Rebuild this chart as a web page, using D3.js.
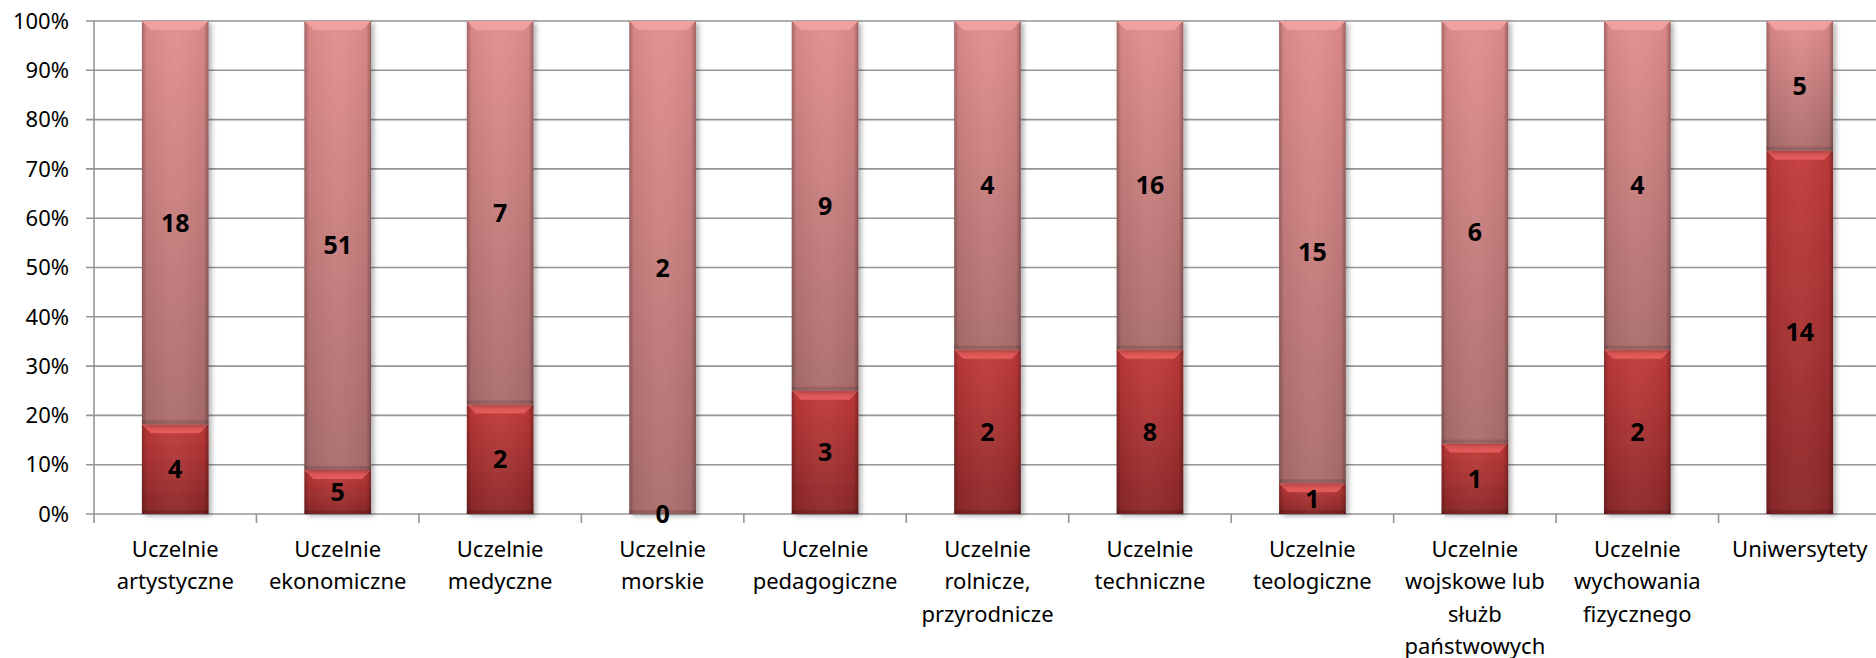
<!DOCTYPE html>
<head>
  <meta charset="utf-8">
  <script src="https://d3js.org/d3.v7.min.js"></script>
  <style>
    body { margin: 0; background: #fff; }
    text { font-family: 'Noto Sans', 'Open Sans', sans-serif; }
    .tick-label { font-size: 22px; fill: #000; }
    .val { font-size: 25px; font-weight: bold; fill: #000; }
    .grid line { stroke: #959595; stroke-width: 1.6; }
  </style>
</head>
<body>
<script>
  var categories = [
    "Uczelnie\nartystyczne",
    "Uczelnie\nekonomiczne",
    "Uczelnie\nmedyczne",
    "Uczelnie\nmorskie",
    "Uczelnie\npedagogiczne",
    "Uczelnie\nrolnicze,\nprzyrodnicze",
    "Uczelnie\ntechniczne",
    "Uczelnie\nteologiczne",
    "Uczelnie\nwojskowe lub\nsłużb\npaństwowych",
    "Uczelnie\nwychowania\nfizycznego",
    "Uniwersytety"
  ];
  var seriesBottom = [4, 5, 2, 0, 3, 2, 8, 1, 1, 2, 14];
  var seriesTop = [18, 51, 7, 2, 9, 4, 16, 15, 6, 4, 5];
  var yTicks = [0, 0.1, 0.2, 0.3, 0.4, 0.5, 0.6, 0.7, 0.8, 0.9, 1];

  var W = 1876, H = 658;
  var margin = { top: 21, left: 94, bottom: 144 };
  var plotRight = 1881;

  var svg = d3.select("body").append("svg")
      .attr("width", W)
      .attr("height", H);

  var defs = svg.append("defs");
  var g1 = defs.append("linearGradient").attr("id", "gBottom")
      .attr("x1", 0).attr("y1", 0).attr("x2", 0).attr("y2", 1);
  g1.append("stop").attr("offset", "0%").attr("stop-color", "#c43b3b");
  g1.append("stop").attr("offset", "100%").attr("stop-color", "#8c2829");
  var g2 = defs.append("linearGradient").attr("id", "gTop")
      .attr("x1", 0).attr("y1", 0).attr("x2", 0).attr("y2", 1);
  g2.append("stop").attr("offset", "0%").attr("stop-color", "#e38e8e");
  g2.append("stop").attr("offset", "100%").attr("stop-color", "#ab6d6d");
  var gs = defs.append("linearGradient").attr("id", "gSide")
      .attr("x1", 0).attr("y1", 0).attr("x2", 1).attr("y2", 0);
  gs.append("stop").attr("offset", "0%").attr("stop-color", "#000").attr("stop-opacity", 0.28);
  gs.append("stop").attr("offset", "7%").attr("stop-color", "#000").attr("stop-opacity", 0.05);
  gs.append("stop").attr("offset", "50%").attr("stop-color", "#fff").attr("stop-opacity", 0.04);
  gs.append("stop").attr("offset", "93%").attr("stop-color", "#000").attr("stop-opacity", 0.05);
  gs.append("stop").attr("offset", "100%").attr("stop-color", "#000").attr("stop-opacity", 0.32);
  var f = defs.append("filter").attr("id", "shadow")
      .attr("x", "-20%").attr("y", "-5%").attr("width", "150%").attr("height", "120%");
  f.append("feDropShadow").attr("dx", 3).attr("dy", 2).attr("stdDeviation", 2.5)
      .attr("flood-color", "#000").attr("flood-opacity", 0.3);

  var x = d3.scaleBand()
      .domain(categories)
      .range([margin.left, plotRight])
      .paddingInner(0.59)
      .paddingOuter(0.295);

  var y = d3.scaleLinear()
      .domain([0, 1])
      .range([H - margin.bottom, margin.top]);

  // gridlines
  svg.append("g").attr("class", "grid")
    .selectAll("line").data(yTicks).enter().append("line")
      .attr("x1", margin.left - 8).attr("x2", W)
      .attr("y1", function(d) { return y(d); })
      .attr("y2", function(d) { return y(d); });

  // y axis line
  svg.append("line")
      .attr("x1", margin.left).attr("x2", margin.left)
      .attr("y1", y(1)).attr("y2", y(0) + 9)
      .attr("stroke", "#959595").attr("stroke-width", 1.6);

  // x category ticks
  var step = x.step();
  svg.append("g").selectAll("line").data(categories.slice(1)).enter().append("line")
      .attr("x1", function(d) { return x(d) + x.bandwidth() / 2 - step / 2; })
      .attr("x2", function(d) { return x(d) + x.bandwidth() / 2 - step / 2; })
      .attr("y1", y(0)).attr("y2", y(0) + 9)
      .attr("stroke", "#959595").attr("stroke-width", 1.6);

  // y labels
  svg.append("g").selectAll("text").data(yTicks).enter().append("text")
      .attr("class", "tick-label")
      .attr("x", 69)
      .attr("y", function(d) { return y(d); })
      .attr("dy", "0.35em")
      .attr("text-anchor", "end")
      .text(function(d) { return Math.round(d * 100) + "%"; });

  var rows = categories.map(function(c, i) {
    var tot = seriesBottom[i] + seriesTop[i];
    return { cat: c, b: seriesBottom[i], t: seriesTop[i], pb: seriesBottom[i] / tot };
  });

  function drawSeg(sel, y0f, y1f, fill, bevel) {
    var bars = sel.selectAll("g.bar").data(rows).enter().append("g");
    bars.each(function(d) {
      var v0 = y0f(d), v1 = y1f(d);
      if (v1 - v0 <= 0) return;
      var gg = d3.select(this);
      var bx = x(d.cat), bw = x.bandwidth();
      var top = y(v1), h = y(v0) - y(v1);
      gg.append("rect").attr("x", bx).attr("y", top).attr("width", bw).attr("height", h)
          .attr("fill", fill).attr("filter", "url(#shadow)");
      gg.append("rect").attr("x", bx).attr("y", top).attr("width", bw).attr("height", h)
          .attr("fill", "url(#gSide)");
      var bv = Math.min(9, h / 2);
      gg.append("path")
          .attr("d", "M" + bx + "," + top + "L" + (bx + bw) + "," + top +
                "L" + (bx + bw - bv) + "," + (top + bv) + "L" + (bx + bv) + "," + (top + bv) + "Z")
          .attr("fill", bevel).attr("opacity", 0.85);
      gg.append("rect").attr("x", bx).attr("y", top + h - 4).attr("width", bw).attr("height", 4)
          .attr("fill", "#000").attr("opacity", 0.12);
    });
  }

  var barsG = svg.append("g");
  drawSeg(barsG.append("g"), function(d) { return 0; }, function(d) { return d.pb; }, "url(#gBottom)", "#ec5f5f");
  drawSeg(barsG.append("g"), function(d) { return d.pb; }, function(d) { return 1; }, "url(#gTop)", "#f2a3a3");

  // value labels
  var lab = svg.append("g");
  lab.selectAll("text.vb").data(rows).enter().append("text")
      .attr("class", "val")
      .attr("text-anchor", "middle")
      .attr("x", function(d) { return x(d.cat) + x.bandwidth() / 2; })
      .attr("y", function(d) { return y(d.pb / 2); })
      .attr("dy", "0.36em")
      .text(function(d) { return d.b; });
  lab.selectAll("text.vt").data(rows).enter().append("text")
      .attr("class", "val")
      .attr("text-anchor", "middle")
      .attr("x", function(d) { return x(d.cat) + x.bandwidth() / 2; })
      .attr("y", function(d) { return y((d.pb + 1) / 2); })
      .attr("dy", "0.36em")
      .text(function(d) { return d.t; });

  // category labels
  var cl = svg.append("g").selectAll("text").data(categories).enter().append("text")
      .attr("class", "tick-label")
      .attr("text-anchor", "middle")
      .attr("x", function(d) { return x(d) + x.bandwidth() / 2; })
      .attr("y", 557);
  cl.each(function(d) {
    var t = d3.select(this);
    d.split("\n").forEach(function(line, i) {
      t.append("tspan")
          .attr("x", x(d) + x.bandwidth() / 2)
          .attr("dy", i === 0 ? 0 : 32.3)
          .text(line);
    });
  });
</script>
</body>
